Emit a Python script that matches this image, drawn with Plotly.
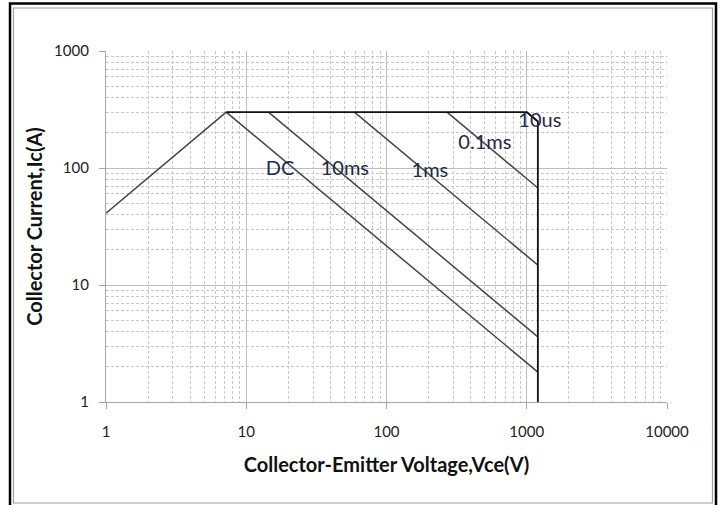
import plotly.graph_objects as go

# Safe operating area boundaries (Vce in V, Ic in A)
rise_v = [1, 7.2]
rise_i = [41, 300]

limit_v = [7.2, 1000, 1200, 1200]
limit_i = [300, 300, 250, 1]

dc_v = [7.2, 1200]
dc_i = [300, 1.8]

ms10_v = [14.4, 1200]
ms10_i = [300, 3.6]

ms1_v = [59, 1200]
ms1_i = [300, 14.8]

ms01_v = [270, 1200]
ms01_i = [300, 67.5]

us10_v = [1000, 1200]
us10_i = [300, 250]

# curve labels
label_text = ["DC", "10ms", "1ms", "0.1ms", "10us"]
label_v = [17.4, 50.5, 204, 503, 1240]
label_i = [96, 96, 92, 160, 247]

x_ticks = [1, 10, 100, 1000, 10000]
y_ticks = [1, 10, 100, 1000]

W, H = 723, 505
ML, MR, MT, MB = 106, 56, 51, 103
PW, PH = W - ML - MR, H - MT - MB

def px(x):
    return (x - ML) / PW

def py(y):
    return (H - MB - y) / PH

fig = go.Figure()

line_gray = dict(color="#454545", width=1.5)
for xs, ys in [(rise_v, rise_i), (dc_v, dc_i), (ms10_v, ms10_i),
               (ms1_v, ms1_i), (ms01_v, ms01_i), (us10_v, us10_i)]:
    fig.add_trace(go.Scatter(x=xs, y=ys, mode="lines", line=line_gray,
                             hoverinfo="skip", showlegend=False))

fig.add_trace(go.Scatter(x=limit_v, y=limit_i, mode="lines",
                         line=dict(color="#111111", width=1.8),
                         hoverinfo="skip", showlegend=False))

fig.add_trace(go.Scatter(x=label_v, y=label_i, mode="text", text=label_text,
                         textfont=dict(family="Lato", size=20, color="#1f2a48"),
                         hoverinfo="skip", showlegend=False))

axis_common = dict(
    type="log",
    showline=True, linecolor="#a6a6a6", linewidth=1.2,
    ticks="outside", ticklen=6, tickcolor="#a6a6a6",
    showgrid=True, gridcolor="#bdbdbd", gridwidth=1,
    zeroline=False,
    tickfont=dict(family="Lato", size=15, color="#222222"),
    minor=dict(dtick="D1", showgrid=True, gridcolor="#c8c8c8",
               griddash="3px,2px", gridwidth=1, ticks=""),
)

title_font = dict(family="Lato", size=20, color="#111111")

fig.update_xaxes(**axis_common, range=[0, 4], tickvals=x_ticks,
                 ticktext=[str(v) for v in x_ticks], ticklabelstandoff=10,
                 title=dict(text="<b>Collector-Emitter Voltage,Vce(V)</b>",
                            font=title_font, standoff=18))
fig.update_yaxes(**axis_common, range=[0, 3], tickvals=y_ticks,
                 ticktext=[str(v) for v in y_ticks], ticklabelstandoff=7,
                 title=dict(text="<b>Collector Current,Ic(A)</b>",
                            font=title_font, standoff=6))

# picture frame: thick black outer edge, thin gray inner edge
fig.add_shape(type="rect", xref="paper", yref="paper",
              x0=px(10), x1=px(716), y0=py(3.5), y1=py(508),
              line=dict(color="#000000", width=2.5), layer="above")
fig.add_shape(type="rect", xref="paper", yref="paper",
              x0=px(13.5), x1=px(712.5), y0=py(8), y1=py(503),
              line=dict(color="#a0a0a0", width=1.2), layer="above")

fig.update_layout(
    width=W, height=H,
    margin=dict(l=ML, r=MR, t=MT, b=MB),
    paper_bgcolor="white", plot_bgcolor="white",
    showlegend=False,
)

fig.write_html("out.html")
